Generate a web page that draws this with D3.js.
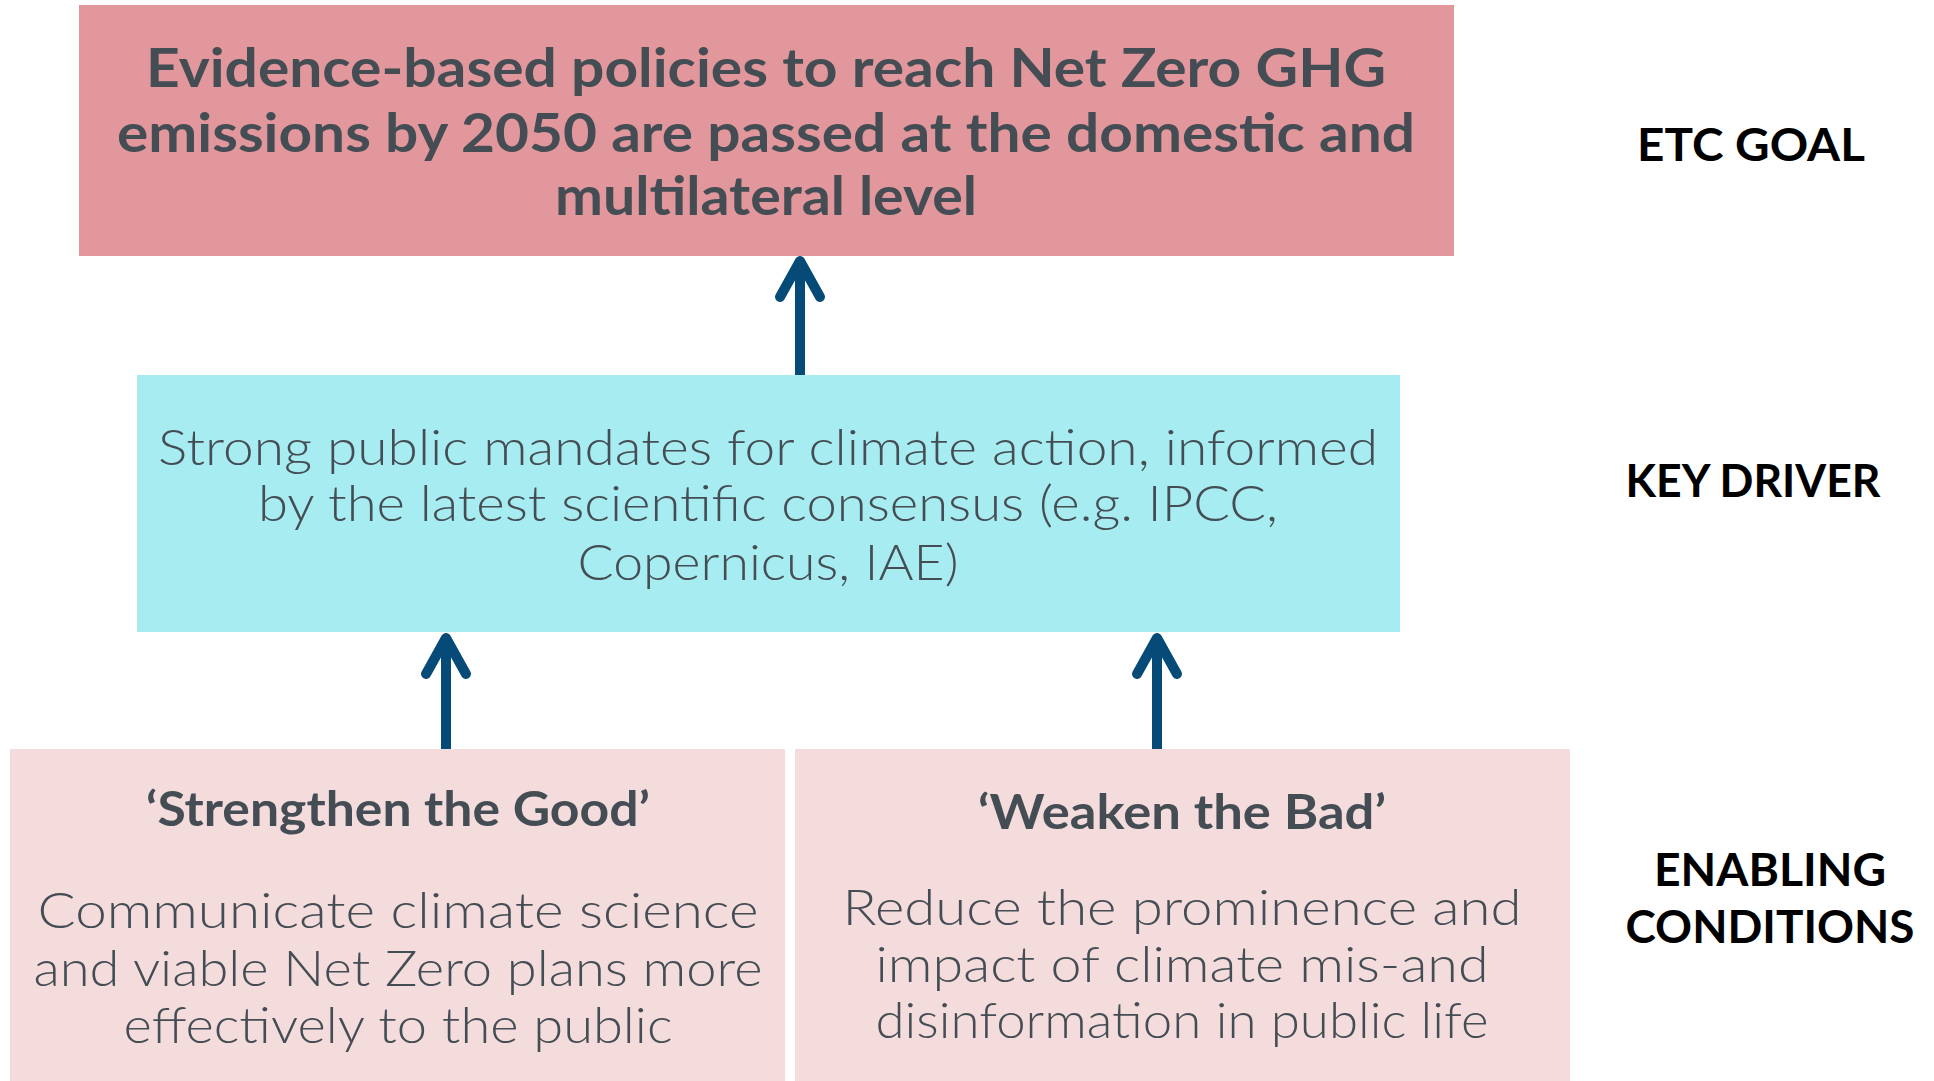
<!DOCTYPE html>
<html><head><meta charset="utf-8">
<script src="https://cdn.jsdelivr.net/npm/d3@7"></script>
<style>html,body{margin:0;padding:0;background:#fff;}svg{display:block;}</style>
</head><body>
<script>
// ---- content ----
const goalLines = ["Evidence-based policies to reach Net Zero GHG","emissions by 2050 are passed at the domestic and","multilateral level"];
const driverLines = ["Strong public mandates for climate action, informed","by the latest scientific consensus (e.g. IPCC,","Copernicus, IAE)"];
const goodTitle = ["‘Strengthen the Good’"];
const goodLines = ["Communicate climate science","and viable Net Zero plans more","effectively to the public"];
const badTitle = ["‘Weaken the Bad’"];
const badLines = ["Reduce the prominence and","impact of climate mis-and","disinformation in public life"];
const levelLabels = [["ETC GOAL"],["KEY DRIVER"],["ENABLING","CONDITIONS"]];

// ---- layout ----
const W = 1934, H = 1081;
const svg = d3.select("body").append("svg").attr("width", W).attr("height", H);
const font = "Lato, 'Noto Sans', sans-serif";
const textCol = "#454d54";

const boxes = [
  {x:79, y:5, w:1375, h:251, fill:"#e1979b"},
  {x:137, y:375, w:1263, h:257, fill:"#a6ecf0"},
  {x:10, y:749, w:775, h:332, fill:"#f4dcdd"},
  {x:795, y:749, w:775, h:332, fill:"#f4dcdd"}
];
svg.selectAll("rect.box").data(boxes).join("rect").attr("class","box")
  .attr("x",d=>d.x).attr("y",d=>d.y).attr("width",d=>d.w).attr("height",d=>d.h).attr("fill",d=>d.fill);

function block(lines, cx, baselines, widths, size, weight, color){
  svg.append("g").selectAll("text").data(lines).join("text")
    .attr("x", cx).attr("y", (d,i)=>baselines[i])
    .attr("text-anchor","middle")
    .attr("font-family", font).attr("font-size", size).attr("font-weight", weight)
    .attr("fill", color)
    .attr("textLength", (d,i)=>widths[i]).attr("lengthAdjust","spacingAndGlyphs")
    .text(d=>d);
}
block(goalLines, 766, [87,152,215], [1240,1298,422], 54, 700, textCol);
block(driverLines, 768, [465,521,580], [1220,1020,381], 49, 300, textCol);
block(goodTitle, 398, [826], [504], 47, 700, textCol);
block(goodLines, 398, [928,986,1043], [721,729,549], 49, 300, textCol);
block(badTitle, 1182, [829], [408], 47, 700, textCol);
block(badLines, 1182, [925,982,1038], [679,613,613], 49, 300, textCol);
block(levelLabels[0], 1751, [161], [228], 46, 700, "#000");
block(levelLabels[1], 1753, [497], [255], 46, 700, "#000");
block(levelLabels[2], 1770, [886,943], [232,289], 46, 700, "#000");

// ---- arrows ----
const arrows = [
  {x:800, tip:257, base:375},
  {x:446, tip:634, base:749},
  {x:1157, tip:634, base:749}
];
const ag = svg.append("g").attr("stroke","#064b78").attr("stroke-width",10)
  .attr("fill","none").attr("stroke-linecap","round").attr("stroke-linejoin","round");
arrows.forEach(a=>{
  ag.append("line").attr("x1",a.x).attr("x2",a.x).attr("y1",a.tip+6).attr("y2",a.base).attr("stroke-linecap","butt");
  ag.append("path").attr("d", d3.line()([[a.x-20,a.tip+40],[a.x,a.tip+4],[a.x+20,a.tip+40]]));
});
</script>
</body></html>
